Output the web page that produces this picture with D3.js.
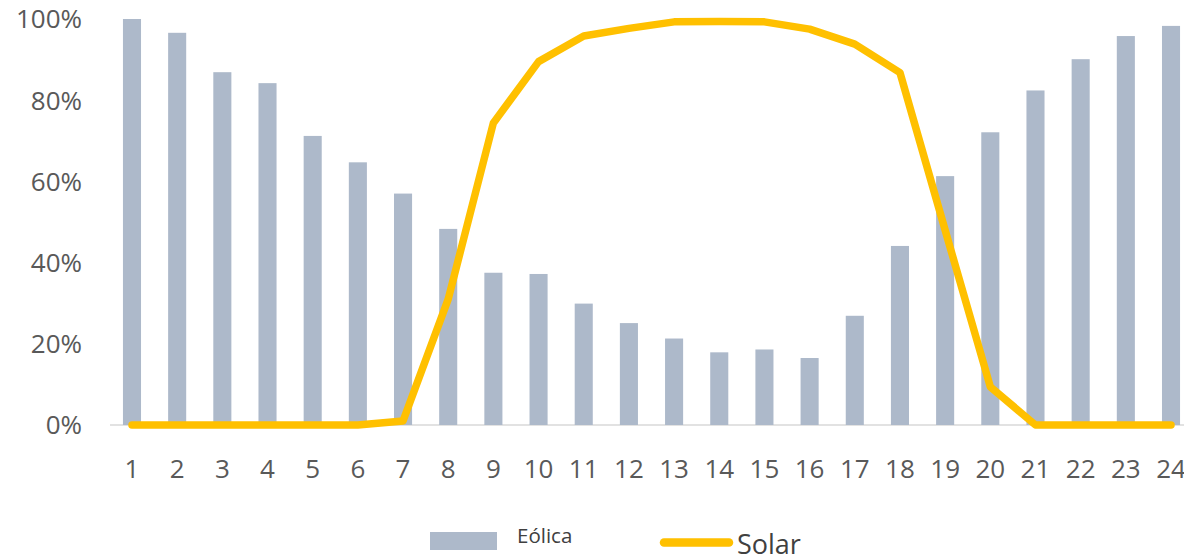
<!DOCTYPE html>
<html>
<head>
<meta charset="utf-8">
<script src="https://cdn.jsdelivr.net/npm/d3@7"></script>
<style>
  html, body { margin: 0; padding: 0; background: #ffffff; }
  svg { display: block; font-family: "Open Sans", "Noto Sans", sans-serif; }
</style>
</head>
<body>
<svg id="chart" width="1184" height="554"></svg>
<script>
// Hours of the day
const hours = ["1","2","3","4","5","6","7","8","9","10","11","12","13","14","15","16","17","18","19","20","21","22","23","24"];
// Wind generation profile (% of daily max)
const eolica = [100, 96.6, 86.9, 84.2, 71.2, 64.7, 57.0, 48.3, 37.5, 37.2, 29.9, 25.1, 21.3, 17.9, 18.6, 16.5, 26.9, 44.1, 61.3, 72.1, 82.4, 90.1, 95.8, 98.3];
// Solar generation profile (% of daily max)
const solar = [0, 0, 0, 0, 0, 0, 1, 31, 74.4, 89.5, 95.8, 97.7, 99.3, 99.4, 99.3, 97.5, 93.8, 86.8, 48, 9.4, 0, 0, 0, 0];
// Value axis ticks
const yTicks = [0, 20, 40, 60, 80, 100];
const seriesNames = ["Eólica", "Solar"];

const svg = d3.select("#chart");
const barColor = "#ADB9CA";
const lineColor = "#FFC000";
const textColor = "#595959";

const x = d3.scaleBand()
  .domain(hours)
  .range([109.4, 1193.6])
  .paddingInner(0.6)
  .paddingOuter(0.3);

const y = d3.scaleLinear().domain([0, 100]).range([425, 19]);

// Category axis baseline
svg.append("line")
  .attr("x1", 110).attr("x2", 1184)
  .attr("y1", y(0)).attr("y2", y(0))
  .attr("stroke", "#D9D9D9").attr("stroke-width", 1.5);

// Wind bars
svg.append("g").selectAll("rect")
  .data(eolica)
  .join("rect")
  .attr("x", (d, i) => x(hours[i]))
  .attr("width", x.bandwidth())
  .attr("y", d => y(d))
  .attr("height", d => y(0) - y(d))
  .attr("fill", barColor);

// Solar line
const line = d3.line()
  .x((d, i) => x(hours[i]) + x.bandwidth() / 2)
  .y(d => y(d));

svg.append("path")
  .datum(solar)
  .attr("d", line)
  .attr("fill", "none")
  .attr("stroke", lineColor)
  .attr("stroke-width", 7.5)
  .attr("stroke-linejoin", "round")
  .attr("stroke-linecap", "round");

// Value axis labels
svg.append("g").selectAll("text")
  .data(yTicks)
  .join("text")
  .attr("x", 82)
  .attr("y", d => y(d) + 9.3)
  .attr("text-anchor", "end")
  .attr("font-size", 26)
  .attr("fill", textColor)
  .text(d => d + "%");

// Hour labels
svg.append("g").selectAll("text")
  .data(hours)
  .join("text")
  .attr("x", d => x(d) + x.bandwidth() / 2)
  .attr("y", 478)
  .attr("text-anchor", "middle")
  .attr("font-size", 26)
  .attr("fill", textColor)
  .text(d => d);

// Legend
const legend = svg.append("g");
legend.append("rect")
  .attr("x", 430).attr("y", 532)
  .attr("width", 67).attr("height", 18)
  .attr("fill", barColor);
legend.append("text")
  .attr("x", 517).attr("y", 543)
  .attr("font-size", 20.5)
  .attr("fill", "#404040")
  .text(seriesNames[0]);
legend.append("line")
  .attr("x1", 664).attr("x2", 729)
  .attr("y1", 542.5).attr("y2", 542.5)
  .attr("stroke", lineColor)
  .attr("stroke-width", 8.5)
  .attr("stroke-linecap", "round");
legend.append("text")
  .attr("x", 737).attr("y", 554)
  .attr("font-size", 27)
  .attr("fill", "#404040")
  .text(seriesNames[1]);
</script>
</body>
</html>
